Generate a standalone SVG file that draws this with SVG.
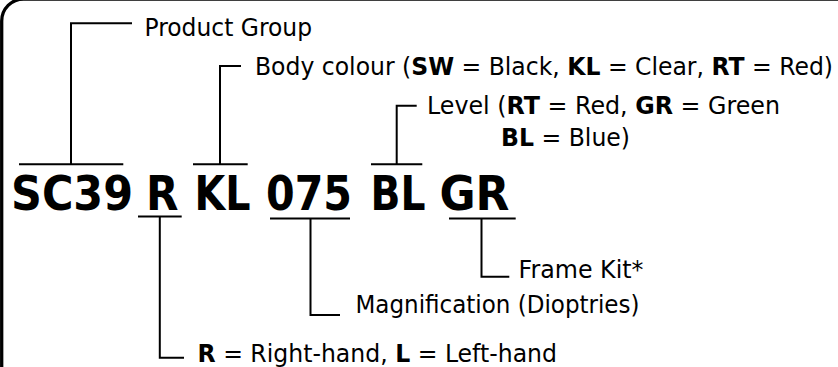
<svg xmlns="http://www.w3.org/2000/svg" width="838" height="367" viewBox="0 0 838 367">
<style>
.lbl{font-family:"DejaVu Sans","Liberation Sans",sans-serif;font-size:24px;fill:#000}
.b{font-weight:bold}
.code{font-family:"DejaVu Sans","Liberation Sans",sans-serif;font-size:48px;font-weight:bold;fill:#000}
.ln{fill:none;stroke:#000;stroke-width:2}
.frame{fill:none;stroke:#000;stroke-width:3.3}
</style>
<rect width="838" height="367" fill="#fff"/>
<path class="frame" d="M1.7,370 V21 A22,22 0 0 1 23.7,-1 H860"/>
<g id="code">
<text class="code" x="11" y="210" textLength="122" lengthAdjust="spacingAndGlyphs">SC39</text>
<text class="code" x="146" y="210" textLength="32.5" lengthAdjust="spacingAndGlyphs">R</text>
<text class="code" x="194.5" y="210" textLength="56" lengthAdjust="spacingAndGlyphs">KL</text>
<text class="code" x="266" y="210" textLength="86" lengthAdjust="spacingAndGlyphs">075</text>
<text class="code" x="370.5" y="210" textLength="55" lengthAdjust="spacingAndGlyphs">BL</text>
<text class="code" x="439.5" y="210" textLength="70" lengthAdjust="spacingAndGlyphs">GR</text>
</g>
<g id="connectors">
<path class="ln" d="M19,164.3 H123.3 M71,164.3 V23.3 H132"/>
<path class="ln" d="M193,164.3 H247.7 M220,164.3 V66 H241"/>
<path class="ln" d="M371,164.3 H422.3 M396.7,164.3 V105.7 H416.7"/>
<path class="ln" d="M138,216.5 H181.7 M159.8,216.5 V357.7 H184"/>
<path class="ln" d="M270,218.5 H350 M310.5,218.5 V315 H340"/>
<path class="ln" d="M449,218.5 H515.7 M481.5,218.5 V276.7 H509.3"/>
</g>
<g id="product-group">
<text class="lbl" x="144.5" y="35.5" textLength="167.5" lengthAdjust="spacingAndGlyphs">Product Group</text>
</g>
<g id="body-colour">
<text class="lbl" x="255" y="75" textLength="578" lengthAdjust="spacingAndGlyphs">Body colour (<tspan class="b">SW</tspan> = Black, <tspan class="b">KL</tspan> = Clear, <tspan class="b">RT</tspan> = Red)</text>
</g>
<g id="level">
<text class="lbl" x="427" y="114" textLength="353" lengthAdjust="spacingAndGlyphs">Level (<tspan class="b">RT</tspan> = Red, <tspan class="b">GR</tspan> = Green</text>
<text class="lbl" x="501" y="146" textLength="129" lengthAdjust="spacingAndGlyphs"><tspan class="b">BL</tspan> = Blue)</text>
</g>
<g id="frame-kit">
<text class="lbl" x="518.5" y="278.3" textLength="125" lengthAdjust="spacingAndGlyphs">Frame Kit*</text>
</g>
<g id="magnification">
<text class="lbl" x="355.5" y="313.3" textLength="284" lengthAdjust="spacingAndGlyphs">Magnification (Dioptries)</text>
</g>
<g id="hand">
<text class="lbl" x="197.5" y="362" textLength="359.5" lengthAdjust="spacingAndGlyphs"><tspan class="b">R</tspan> = Right-hand, <tspan class="b">L</tspan> = Left-hand</text>
</g>
</svg>
